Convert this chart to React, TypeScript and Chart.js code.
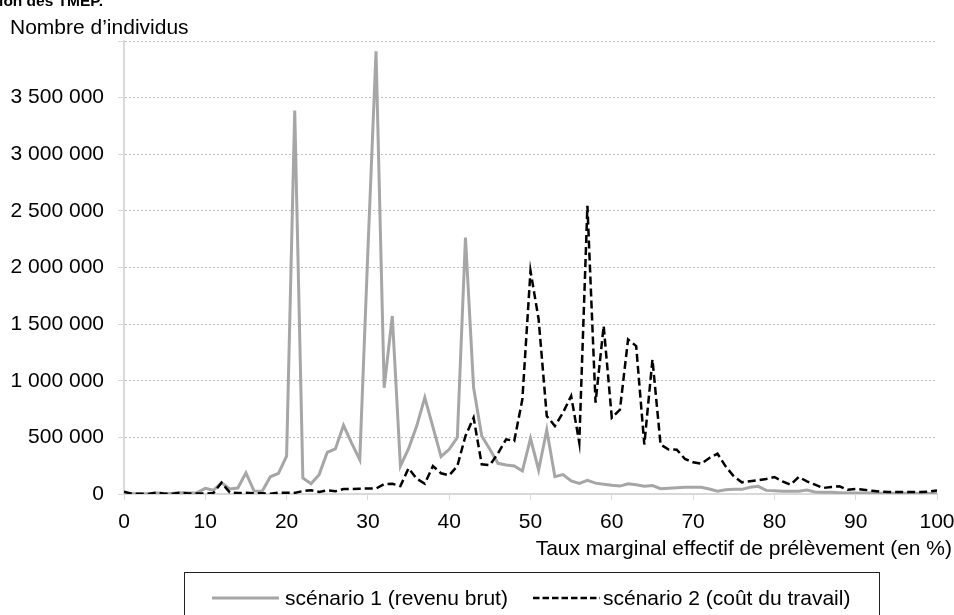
import React, { useEffect, useRef } from 'react';
import { Chart, registerables } from 'chart.js';

Chart.register(...registerables);

const TITLE = 'Distribution des TMEP.';
const Y_TITLE = 'Nombre d’individus';
const X_TITLE = 'Taux marginal effectif de prélèvement (en %)';
const SERIES_NAMES = ['scénario 1 (revenu brut)', 'scénario 2 (coût du travail)'];

const TAUX = [
  0, 1, 2, 3, 4, 5, 6, 7, 8, 9, 10, 11, 12, 13, 14, 15, 16, 17, 18, 19, 20,
  21, 22, 23, 24, 25, 26, 27, 28, 29, 30, 31, 32, 33, 34, 35, 36, 37, 38, 39, 40,
  41, 42, 43, 44, 45, 46, 47, 48, 49, 50, 51, 52, 53, 54, 55, 56, 57, 58, 59, 60,
  61, 62, 63, 64, 65, 66, 67, 68, 69, 70, 71, 72, 73, 74, 75, 76, 77, 78, 79, 80,
  81, 82, 83, 84, 85, 86, 87, 88, 89, 90, 91, 92, 93, 94, 95, 96, 97, 98, 99, 100,
];

const SCENARIO_1 = [
  5000, 3000, 2000, 3000, 8000, 5000, 6000, 10000, 8000, 12000,
  50000, 33000, 100000, 45000, 53000, 187000, 26000, 24000, 152000, 182000,
  335000, 3385000, 141000, 91000, 171000, 368000, 398000, 607000, 450000, 303000,
  2150000, 3910000, 938000, 1572000, 246000, 400000, 600000, 851000, 590000, 330000,
  395000, 498000, 2265000, 940000, 512000, 395000, 271000, 256000, 247000, 203000,
  492000, 212000, 565000, 153000, 171000, 115000, 94000, 120000, 96000, 87000,
  77000, 70000, 91000, 82000, 69000, 74000, 47000, 51000, 56000, 59000,
  59000, 59000, 44000, 24000, 38000, 41000, 41000, 59000, 68000, 32000,
  29000, 24000, 24000, 24000, 35000, 18000, 15000, 15000, 12000, 9000,
  9000, 8000, 8000, 7000, 7000, 6000, 6000, 6000, 5000, 5000, 5000,
];

const SCENARIO_2 = [
  20000, 2000, 2000, 1000, 12000, 3000, 2000, 12000, 5000, 4000,
  4000, 8000, 100000, 14000, 8000, 10000, 6000, 7000, 2000, 12000,
  12000, 10000, 26000, 33000, 18000, 32000, 24000, 44000, 44000, 47000,
  48000, 48000, 88000, 91000, 70000, 228000, 135000, 91000, 247000, 183000,
  165000, 247000, 512000, 674000, 262000, 256000, 359000, 483000, 468000, 836000,
  1970000, 1543000, 689000, 600000, 718000, 866000, 453000, 2545000, 807000, 1484000,
  673000, 744000, 1365000, 1306000, 437000, 1188000, 436000, 393000, 391000, 309000,
  280000, 268000, 318000, 356000, 244000, 156000, 103000, 112000, 121000, 133000,
  150000, 112000, 82000, 150000, 112000, 82000, 53000, 62000, 68000, 38000,
  44000, 38000, 29000, 21000, 18000, 18000, 18000, 18000, 18000, 21000, 32000,
];

const X_MIN = 0;
const X_MAX = 100;
const X_STEP = 10;
const Y_MIN = 0;
const Y_MAX = 4000000;
const Y_STEP = 500000;

const FONT = "'Liberation Sans', Arial, Helvetica, sans-serif";
const GRAY = '#a6a6a6';
const AXIS = '#d9d9d9';

const fmt = (v: number) => String(v).replace(/\B(?=(\d{3})+(?!\d))/g, ' ');

const extras = {
  id: 'extras',
  afterDraw(chart: any) {
    const ctx = chart.ctx as CanvasRenderingContext2D;
    ctx.save();
    ctx.fillStyle = '#000';
    ctx.textBaseline = 'alphabetic';
    // clipped title
    ctx.font = `bold 15.5px ${FONT}`;
    ctx.textAlign = 'right';
    ctx.fillText(TITLE, 103, 6);
    // y title
    ctx.font = `21px ${FONT}`;
    ctx.textAlign = 'left';
    ctx.fillText(Y_TITLE, 10, 34);
    // x title
    ctx.textAlign = 'right';
    ctx.fillText(X_TITLE, 952, 555);
    // legend box
    ctx.strokeStyle = '#222';
    ctx.lineWidth = 1;
    ctx.strokeRect(184.5, 572.5, 695, 60);
    // legend item 1
    ctx.strokeStyle = GRAY;
    ctx.lineWidth = 3;
    ctx.setLineDash([]);
    ctx.beginPath();
    ctx.moveTo(212, 598);
    ctx.lineTo(279, 598);
    ctx.stroke();
    ctx.textAlign = 'left';
    ctx.fillText(SERIES_NAMES[0], 285, 605);
    // legend item 2
    ctx.strokeStyle = '#000';
    ctx.lineWidth = 2.5;
    ctx.setLineDash([6.5, 3]);
    ctx.beginPath();
    ctx.moveTo(533, 598);
    ctx.lineTo(600, 598);
    ctx.stroke();
    ctx.setLineDash([]);
    ctx.fillText(SERIES_NAMES[1], 603, 605);
    ctx.restore();
  },
};

export default function App() {
  const ref = useRef<HTMLCanvasElement | null>(null);

  useEffect(() => {
    if (!ref.current) return;
    const chart = new Chart(ref.current, {
      type: 'line',
      data: {
        datasets: [
          {
            label: SERIES_NAMES[0],
            data: TAUX.map((x, i) => ({ x, y: SCENARIO_1[i] })),
            borderColor: GRAY,
            borderWidth: 3,
            pointRadius: 0,
            tension: 0,
            fill: false,
            order: 2,
          },
          {
            label: SERIES_NAMES[1],
            data: TAUX.map((x, i) => ({ x, y: SCENARIO_2[i] })),
            borderColor: '#000',
            borderWidth: 2.5,
            borderDash: [8, 4],
            pointRadius: 0,
            tension: 0,
            fill: false,
            order: 1,
          },
        ],
      },
      options: {
        responsive: false,
        animation: false,
        devicePixelRatio: 1,
        layout: { padding: { top: 41, right: 17, left: 0, bottom: 0 } },
        plugins: {
          legend: { display: false },
          tooltip: { enabled: false },
          title: { display: false },
        },
        scales: {
          x: {
            type: 'linear',
            min: X_MIN,
            max: X_MAX,
            ticks: {
              stepSize: X_STEP,
              padding: 10,
              color: '#000',
              font: { family: FONT, size: 21 },
              maxRotation: 0,
              autoSkip: false,
            },
            grid: {
              drawOnChartArea: false,
              drawTicks: true,
              tickLength: 6,
              color: AXIS,
              lineWidth: 1,
            },
            border: { color: AXIS, width: 2 },
            afterFit: (s: any) => {
              s.height = 121;
              s.paddingRight = 17;
              s.paddingLeft = 0;
            },
          },
          y: {
            min: Y_MIN,
            max: Y_MAX,
            ticks: {
              stepSize: Y_STEP,
              padding: 14,
              color: '#000',
              font: { family: FONT, size: 21 },
              callback: (v: any) => (Number(v) >= Y_MAX ? '' : fmt(Number(v))),
            },
            grid: {
              color: (c: any) => (c.tick && c.tick.value === 0 ? 'rgba(0,0,0,0)' : '#bdbdbd'),
              tickColor: AXIS,
              tickLength: 6,
              lineWidth: 1,
              tickBorderDash: [],
            },
            border: { color: AXIS, width: 2, dash: [2, 2] },
            afterFit: (s: any) => {
              s.width = 124;
            },
          },
        },
      },
      plugins: [extras],
    } as any);
    return () => chart.destroy();
  }, []);

  return (
    <div
      style={{
        position: 'fixed',
        left: 0,
        top: 0,
        width: 954,
        height: 615,
        overflow: 'hidden',
        background: '#fff',
      }}
    >
      <canvas ref={ref} width={954} height={615} style={{ display: 'block' }} />
    </div>
  );
}
